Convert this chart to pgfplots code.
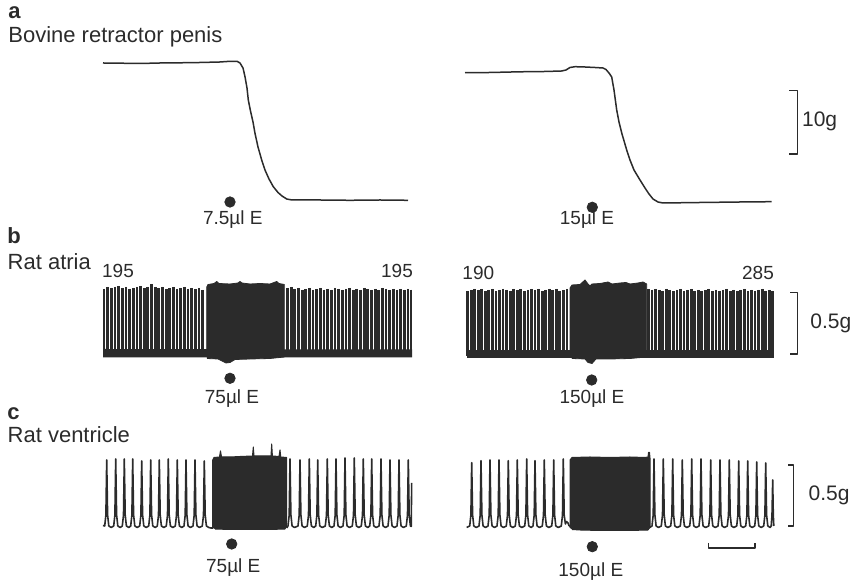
\documentclass[border=0pt]{standalone}
\usepackage{pgfplots}
\usepackage{pgfplotstable}
\pgfplotsset{compat=1.18}
\usepackage{fontspec}
\setmainfont{Liberation Sans}
\definecolor{ink}{gray}{0.17}

\pgfplotstableread{
x y
104.0 289
107.7 287
111.3 288
115.0 287
118.6 286
122.3 288
125.9 287
129.6 289
133.2 288
136.9 287
140.5 286
144.2 288
147.8 287
151.5 284
155.1 287
158.8 288
162.4 287
166.1 289
169.7 288
173.4 287
177.0 289
180.7 288
184.3 287
188.0 289
191.6 288
195.3 289
198.9 288
202.6 290
287.5 288
291.1 287
294.8 289
298.4 288
302.1 290
305.7 289
309.4 288
313.0 290
316.7 289
320.3 288
324.0 290
327.6 289
331.3 290
334.9 288
338.6 289
342.2 290
345.9 289
349.5 288
353.2 290
356.8 289
360.5 290
364.1 288
367.8 289
371.4 290
375.1 289
378.7 290
382.4 288
386.0 289
389.7 290
393.3 289
397.0 290
400.6 289
404.3 290
407.9 289
411.0 290
}\atriaL

\pgfplotstableread{
x y
467.5 291
471.1 290
474.6 289
478.2 290
481.7 289
485.3 291
488.8 290
492.4 289
495.9 291
499.5 290
503.0 289
506.6 290
510.1 291
513.7 289
517.2 290
520.8 289
524.3 291
527.9 290
531.4 289
535.0 290
538.5 289
542.1 291
545.6 290
549.2 289
552.7 290
556.3 289
559.8 291
563.4 290
566.9 289
648.5 289
652.0 290
655.6 289
659.1 290
662.7 291
666.2 289
669.8 290
673.3 291
676.9 290
680.4 289
684.0 291
687.5 290
691.1 289
694.6 291
698.2 290
701.7 291
705.3 290
708.8 289
712.4 291
715.9 290
719.5 291
723.0 290
726.6 289
730.1 291
733.7 290
737.2 291
740.8 290
744.3 289
747.9 291
751.4 290
755.0 291
758.5 290
762.1 289
765.6 291
769.2 290
772.7 291
}\atriaR

\begin{document}
\begin{tikzpicture}
\begin{axis}[
  x=0.5pt, y=0.5pt, xmin=0, xmax=858, ymin=0, ymax=581,
  y dir=reverse, hide axis, clip=false, scale only axis,
  every axis plot/.append style={line join=round},
]
% frame for bounding box
\addplot[draw=none] coordinates {(0,0) (858,581)};

% ---------- Row a ----------
\addplot[ink, line width=0.75pt] coordinates {
(103,63) (120,63.2) (140,63.5) (160,63) (180,62.8) (200,62.5) (220,62) (230,61.3)
(237,61.3) (240,63) (243,68) (245,76.7) (247,88) (248.3,100) (250.5,111) (253,122)
(255,133.3) (258,147) (261.7,160) (265,170) (269,179) (273.3,186.7) (278,192.5)
(282,196) (286.7,199) (292,200) (320,200) (350,200.3) (380,200) (408,200.3)};
\addplot[ink, line width=0.75pt] coordinates {
(465,72.7) (490,72.5) (520,71.8) (545,71.5) (561.7,71) (566,70) (570,67.5) (575,66.7)
(585,67) (595,67.5) (603,68) (606,69.5) (609,73) (611.7,77) (614,90) (616.7,110)
(619,122) (622,134) (626.7,150) (630,160) (634,170) (640,180) (645,188) (649,194)
(653,199) (658,202) (663,203) (700,202.5) (740,202) (771.7,201.7)};

% ---------- Row b: atria ----------
\addplot[only marks, mark=*, mark size=0pt, mark options={draw=none, fill=none},
  error bars/.cd, y dir=plus, y fixed=65, error mark=none,
  error bar style={draw=ink, line width=1.4pt, solid}] table[x=x,y=y] {\atriaL};
\addplot[only marks, mark=*, mark size=0pt, mark options={draw=none, fill=none},
  error bars/.cd, y dir=plus, y fixed=65, error mark=none,
  error bar style={draw=ink, line width=1.4pt, solid}] table[x=x,y=y] {\atriaR};
% bottom bands
\addplot[fill=ink, draw=none] coordinates {(103,349) (412,349.5) (412,357.5) (103,357.5)};
\addplot[fill=ink, draw=none] coordinates {(466.5,350) (773.5,350) (773.5,358.5) (466.5,358.5)};
% dense blocks
\addplot[fill=ink, draw=ink, line width=0.4pt] coordinates {
(206.7,357) (206.7,287) (208,284.5) (214,283.5) (216.7,281.5) (219,283.5) (230,284) (238,283)
(240,281.5) (242,283) (250,284) (260,283.5) (270,284) (276.7,281.5) (279,283.5) (284.3,284.5)
(284.3,357) (270,358.5) (250,359) (235,359.5) (230,362.5) (226,363) (222,361) (218,359) (207,358.5)};
\addplot[fill=ink, draw=ink, line width=0.4pt] coordinates {
(570,357) (570,288) (572,285) (580,284.5) (585,280) (588,284) (590,286) (592,284) (600,283.5)
(608,282) (612,284) (620,283) (626,282.5) (630,284) (638,283) (643,282) (646.7,284)
(646.7,357) (630,358.5) (610,359) (596,359) (592,363.5) (588,362.5) (585,359) (572,358.5)};

% ---------- Row c: ventricle ----------
\addplot[ink, line width=0.8pt] coordinates {
(103,525.5)
(104.7,526) (105.9,515) (106.7,460) (107.6,515) (108.8,526) (111.2,527.5)
(113.7,526) (114.9,515) (115.7,459) (116.6,515) (117.8,526) (120.2,527.5)
(122.3,526) (123.5,515) (124.3,459) (125.2,515) (126.4,526) (128.8,527.5)
(130.7,526) (131.9,515) (132.7,459) (133.6,515) (134.8,526) (137.2,527.5)
(139.7,526) (140.9,515) (141.7,461) (142.6,515) (143.8,526) (146.2,527.5)
(148.7,526) (149.9,515) (150.7,460) (151.6,515) (152.8,526) (155.2,527.5)
(157.3,526) (158.5,515) (159.3,460) (160.2,515) (161.4,526) (163.8,527.5)
(166.3,526) (167.5,515) (168.3,459) (169.2,515) (170.4,526) (172.8,527.5)
(175.3,526) (176.5,515) (177.3,460) (178.2,515) (179.4,526) (181.8,527.5)
(184,526) (185.2,515) (186,460) (186.9,515) (188.1,526) (190.5,527.5)
(193,526) (194.2,515) (195,460) (195.9,515) (197.1,526) (199.5,527.5)
(202.3,526) (203.5,515) (204.3,461) (205.2,515) (206.4,526) (208.8,527.5)
(211,528) (213,528)};
\addplot[ink, line width=0.8pt] coordinates {
(286.7,528)
(288,526) (289.2,515) (290,459) (290.9,515) (292.1,526) (294.5,527.5)
(298,526) (299.2,515) (300,460) (300.9,515) (302.1,526) (304.5,527.5)
(307.3,526) (308.5,515) (309.3,459) (310.2,515) (311.4,526) (313.8,527.5)
(315.7,526) (316.9,515) (317.7,460) (318.6,515) (319.8,526) (322.2,527.5)
(325.3,526) (326.5,515) (327.3,459) (328.2,515) (329.4,526) (331.8,527.5)
(334,526) (335.2,515) (336,459) (336.9,515) (338.1,526) (340.5,527.5)
(343,526) (344.2,515) (345,458) (345.9,515) (347.1,526) (349.5,527.5)
(352.3,526) (353.5,515) (354.3,458) (355.2,515) (356.4,526) (358.8,527.5)
(361.3,526) (362.5,515) (363.3,459) (364.2,515) (365.4,526) (367.8,527.5)
(369.7,526) (370.9,515) (371.7,459) (372.6,515) (373.8,526) (376.2,527.5)
(379,526) (380.2,515) (381,459) (381.9,515) (383.1,526) (385.5,527.5)
(388,526) (389.2,515) (390,460) (390.9,515) (392.1,526) (394.5,527.5)
(397,526) (398.2,515) (399,460) (399.9,515) (401.1,526) (403.5,527.5)
(406.3,526) (407.5,515) (408.3,460) (409.2,515) (410.4,526) (411.2,526.5)
(411.7,483)};
\addplot[ink, line width=0.8pt] coordinates {
(466.7,527.5)
(469.7,526) (470.9,515) (471.7,462.7) (472.6,515) (473.8,526) (476.2,527.5)
(479,526) (480.2,515) (481,460.7) (481.9,515) (483.1,526) (485.5,527.5)
(488,526) (489.2,515) (490,460) (490.9,515) (492.1,526) (494.5,527.5)
(497,526) (498.2,515) (499,460) (499.9,515) (501.1,526) (503.5,527.5)
(506.3,526) (507.5,515) (508.3,460.7) (509.2,515) (510.4,526) (512.8,527.5)
(515.3,526) (516.5,515) (517.3,460) (518.2,515) (519.4,526) (521.8,527.5)
(524.7,526) (525.9,515) (526.7,459) (527.6,515) (528.8,526) (531.2,527.5)
(533,526) (534.2,515) (535,460.7) (535.9,515) (537.1,526) (539.5,527.5)
(542.3,526) (543.5,515) (544.3,460) (545.2,515) (546.4,526) (548.8,527.5)
(551.7,526) (552.9,515) (553.7,460) (554.6,515) (555.8,526) (558.2,527.5)
(561.3,526) (562.5,515) (563.3,459) (564.2,515) (565.4,524) (566.5,521.5) (568,523)
(569,525.5) (571,527)};
\addplot[ink, line width=0.8pt] coordinates {
(649,528)
(652,526) (653.2,515) (654,459) (654.9,515) (656.1,526) (658.5,527.5)
(661.3,526) (662.5,515) (663.3,459) (664.2,515) (665.4,526) (667.8,527.5)
(670.7,526) (671.9,515) (672.7,459) (673.6,515) (674.8,526) (677.2,527.5)
(680.3,526) (681.5,515) (682.3,460) (683.2,515) (684.4,526) (686.8,527.5)
(689.7,526) (690.9,515) (691.7,459) (692.6,515) (693.8,526) (696.2,527.5)
(699,526) (700.2,515) (701,459) (701.9,515) (703.1,526) (705.5,527.5)
(708.7,526) (709.9,515) (710.7,460) (711.6,515) (712.8,526) (715.2,527.5)
(718,526) (719.2,515) (720,460) (720.9,515) (722.1,526) (724.5,527.5)
(727.3,526) (728.5,515) (729.3,460) (730.2,515) (731.4,526) (733.8,527.5)
(736.7,526) (737.9,515) (738.7,461) (739.6,515) (740.8,526) (743.2,527.5)
(745.7,526) (746.9,515) (747.7,461) (748.6,515) (749.8,526) (752.2,527.5)
(754.7,526) (755.9,515) (756.7,462) (757.6,515) (758.8,526) (761.2,527.5)
(763.7,526) (764.9,515) (765.7,463) (766.6,515) (767.8,526) (770.2,527.5)
(771.2,526) (772,515) (772.7,480) (773.3,515) (773.8,526)};
% ventricle blocks
\addplot[fill=ink, draw=ink, line width=0.5pt] coordinates {
(212.7,528) (212.7,460) (214,457.5) (219.5,457) (220.5,451) (221.5,457) (230,457) (240,456.5)
(252.5,456) (253.3,447) (254,456) (262,456) (271,456) (271.7,444) (272.4,456) (279,456.5)
(280,450) (280.8,457) (286.7,457.5) (286.7,526) (285,529) (270,529.5) (250,529.5) (230,529.5)
(215,529)};
\addplot[fill=ink, draw=ink, line width=0.5pt] coordinates {
(570,528) (570,460) (572,457.5) (590,457) (610,457.5) (630,457) (645,457.5) (648,457)
(648.5,452.5) (649.5,452.5) (650,458) (650,527) (648,530) (630,530.5) (600,530.5) (580,530)
(572,529.5)};

% ---------- stimulus dots ----------
\addplot[only marks, mark=*, mark size=2.6pt, color=ink] coordinates {
(230,202) (592.3,207.3) (230,378.3) (591.7,380) (231.7,544) (592.3,546.7)};

% ---------- scale bars ----------
\addplot[ink, line width=0.75pt] coordinates {(789.3,90.7) (797.7,90.7) (797.7,154) (789.3,154)};
\addplot[ink, line width=0.75pt] coordinates {(790,292.7) (797.3,292.7) (797.3,354) (790,354)};
\addplot[ink, line width=0.75pt] coordinates {(788.3,465) (793.3,465) (793.3,526) (788.3,526)};
\addplot[ink, line width=0.75pt] coordinates {(708.3,543) (708.3,548) (755,548) (755,543)};

% ---------- texts ----------
\begin{scope}[every node/.style={text=ink, inner sep=0pt}]
\node[anchor=base west, font=\fontsize{11}{13}\selectfont\bfseries] at (8,18.3) {a};
\node[anchor=base west, font=\fontsize{11}{13}\selectfont] at (8,42.7) {Bovine retractor penis};
\node[anchor=base west, font=\fontsize{11}{13}\selectfont\bfseries] at (7,244) {b};
\node[anchor=base west, font=\fontsize{11}{13}\selectfont] at (7.3,269.3) {Rat atria};
\node[anchor=base west, font=\fontsize{11}{13}\selectfont\bfseries] at (7,420) {c};
\node[anchor=base west, font=\fontsize{11}{13}\selectfont] at (7.3,442.3) {Rat ventricle};

\node[font=\fontsize{9.5}{11}\selectfont] at (232.8,220) {7.5µl E};
\node[font=\fontsize{9.5}{11}\selectfont] at (587,220) {15µl E};
\node[font=\fontsize{9.5}{11}\selectfont] at (232,399) {75µl E};
\node[font=\fontsize{9.5}{11}\selectfont] at (592,399) {150µl E};
\node[font=\fontsize{9.5}{11}\selectfont] at (233.3,568) {75µl E};
\node[font=\fontsize{9.5}{11}\selectfont] at (590.8,572) {150µl E};

\node[anchor=base, font=\fontsize{9.5}{11}\selectfont] at (118,278) {195};
\node[anchor=base, font=\fontsize{9.5}{11}\selectfont] at (397,278) {195};
\node[anchor=base, font=\fontsize{9.5}{11}\selectfont] at (478.3,279.5) {190};
\node[anchor=base, font=\fontsize{9.5}{11}\selectfont] at (758,279.5) {285};

\node[anchor=west, font=\fontsize{10.5}{12}\selectfont] at (801.7,121) {10g};
\node[anchor=west, font=\fontsize{10.5}{12}\selectfont] at (810,323.3) {0.5g};
\node[anchor=west, font=\fontsize{10.5}{12}\selectfont] at (808.3,495) {0.5g};
\end{scope}
\end{axis}
\end{tikzpicture}
\end{document}
